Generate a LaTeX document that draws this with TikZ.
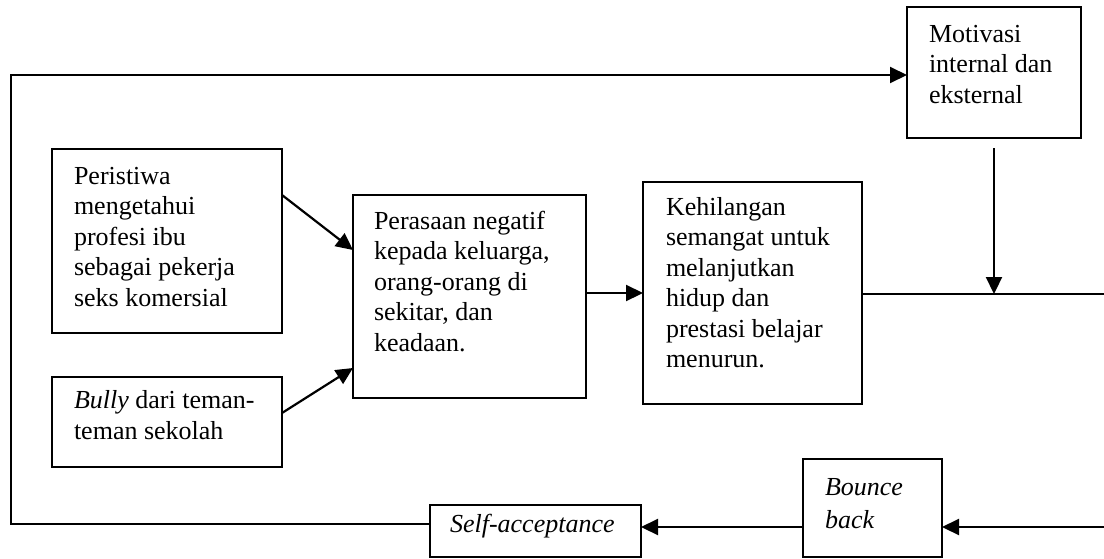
\documentclass[tikz,border=0pt]{standalone}
\usepackage{fontspec}
\setmainfont{Liberation Serif}
\usetikzlibrary{arrows.meta,calc}
\begin{document}
\begin{tikzpicture}[x=1pt,y=-1pt,
  boxnode/.style={draw, line width=1.6pt, inner sep=0pt, outer sep=0pt, rectangle},
  txt/.style={anchor=north west, inner sep=0pt, outer sep=0pt, align=left, font=\fontsize{26}{30.5}\selectfont},
  conn/.style={line width=2.2pt},
  arr/.style={conn, -{Triangle[length=17pt,width=16pt]}}]
\useasboundingbox[fill=white] (0,0) rectangle (1104,558);

% boxes
\node[boxnode, minimum width=230pt, minimum height=184pt] (peri) at (167,241) {};
\node[boxnode, minimum width=230pt, minimum height=90pt] (bully) at (167,422) {};
\node[boxnode, minimum width=233pt, minimum height=203pt] (pera) at (469.5,296.5) {};
\node[boxnode, minimum width=219pt, minimum height=222pt] (keh) at (752.5,293) {};
\node[boxnode, minimum width=174pt, minimum height=131pt] (mot) at (994,72.5) {};
\node[boxnode, minimum width=211pt, minimum height=52pt] (sa) at (535.5,531) {};
\node[boxnode, minimum width=139pt, minimum height=98pt] (bb) at (872.5,508) {};

% texts
\node[txt] (tperi) at (74,164) {\rule{0pt}{20pt}Peristiwa\\mengetahui\\profesi ibu\\sebagai pekerja\\seks komersial};
\node[txt, font=\fontsize{26}{31.5}\selectfont] (tbully) at (74,388) {\rule{0pt}{20pt}\textit{Bully} dari teman-\\teman sekolah};
\node[txt] (tpera) at (374,209) {\rule{0pt}{20pt}Perasaan negatif\\kepada keluarga,\\orang-orang di\\sekitar, dan\\keadaan.};
\node[txt] (tkeh) at (666,195) {\rule{0pt}{20pt}Kehilangan\\semangat untuk\\melanjutkan\\hidup dan\\prestasi belajar\\menurun.};
\node[txt] (tmot) at (929,22) {\rule{0pt}{20pt}Motivasi\\internal dan\\eksternal};
\node[txt] (tsa) at (450,512) {\rule{0pt}{20pt}\textit{Self-acceptance}};
\node[txt, font=\fontsize{26}{33}\selectfont] (tbb) at (825,475) {\rule{0pt}{20pt}\textit{Bounce}\\\textit{back}};

% free ends
\coordinate (cl) at (11,524);
\coordinate (ct) at (11,75);
\coordinate (re) at (1104,294);
\coordinate (rb) at (1104,527);

% connectors
\draw[arr] ($(peri.north east)+(0,46)$) -- ($(pera.north west)+(0,55)$);
\draw[arr] ($(bully.north east)+(0,36)$) -- ($(pera.north west)+(0,173)$);
\draw[arr] ($(pera.north east)+(0,98)$) coordinate (a1) -- (a1 -| keh.west);
\draw[conn] ($(keh.north east)+(0,112)$) -- (re);
\draw[arr] ($(mot.south)+(0,10)$) -- (mot.south |- re);
\draw[arr] (rb) -- (rb -| bb.east);
\draw[arr] ($(bb.north west)+(0,68)$) coordinate (a2) -- (a2 -| sa.east);
\draw[arr, line width=2pt] ($(sa.north west)+(0,19)$) -- (cl) -- (ct) -- (ct -| mot.west);
\end{tikzpicture}
\end{document}
